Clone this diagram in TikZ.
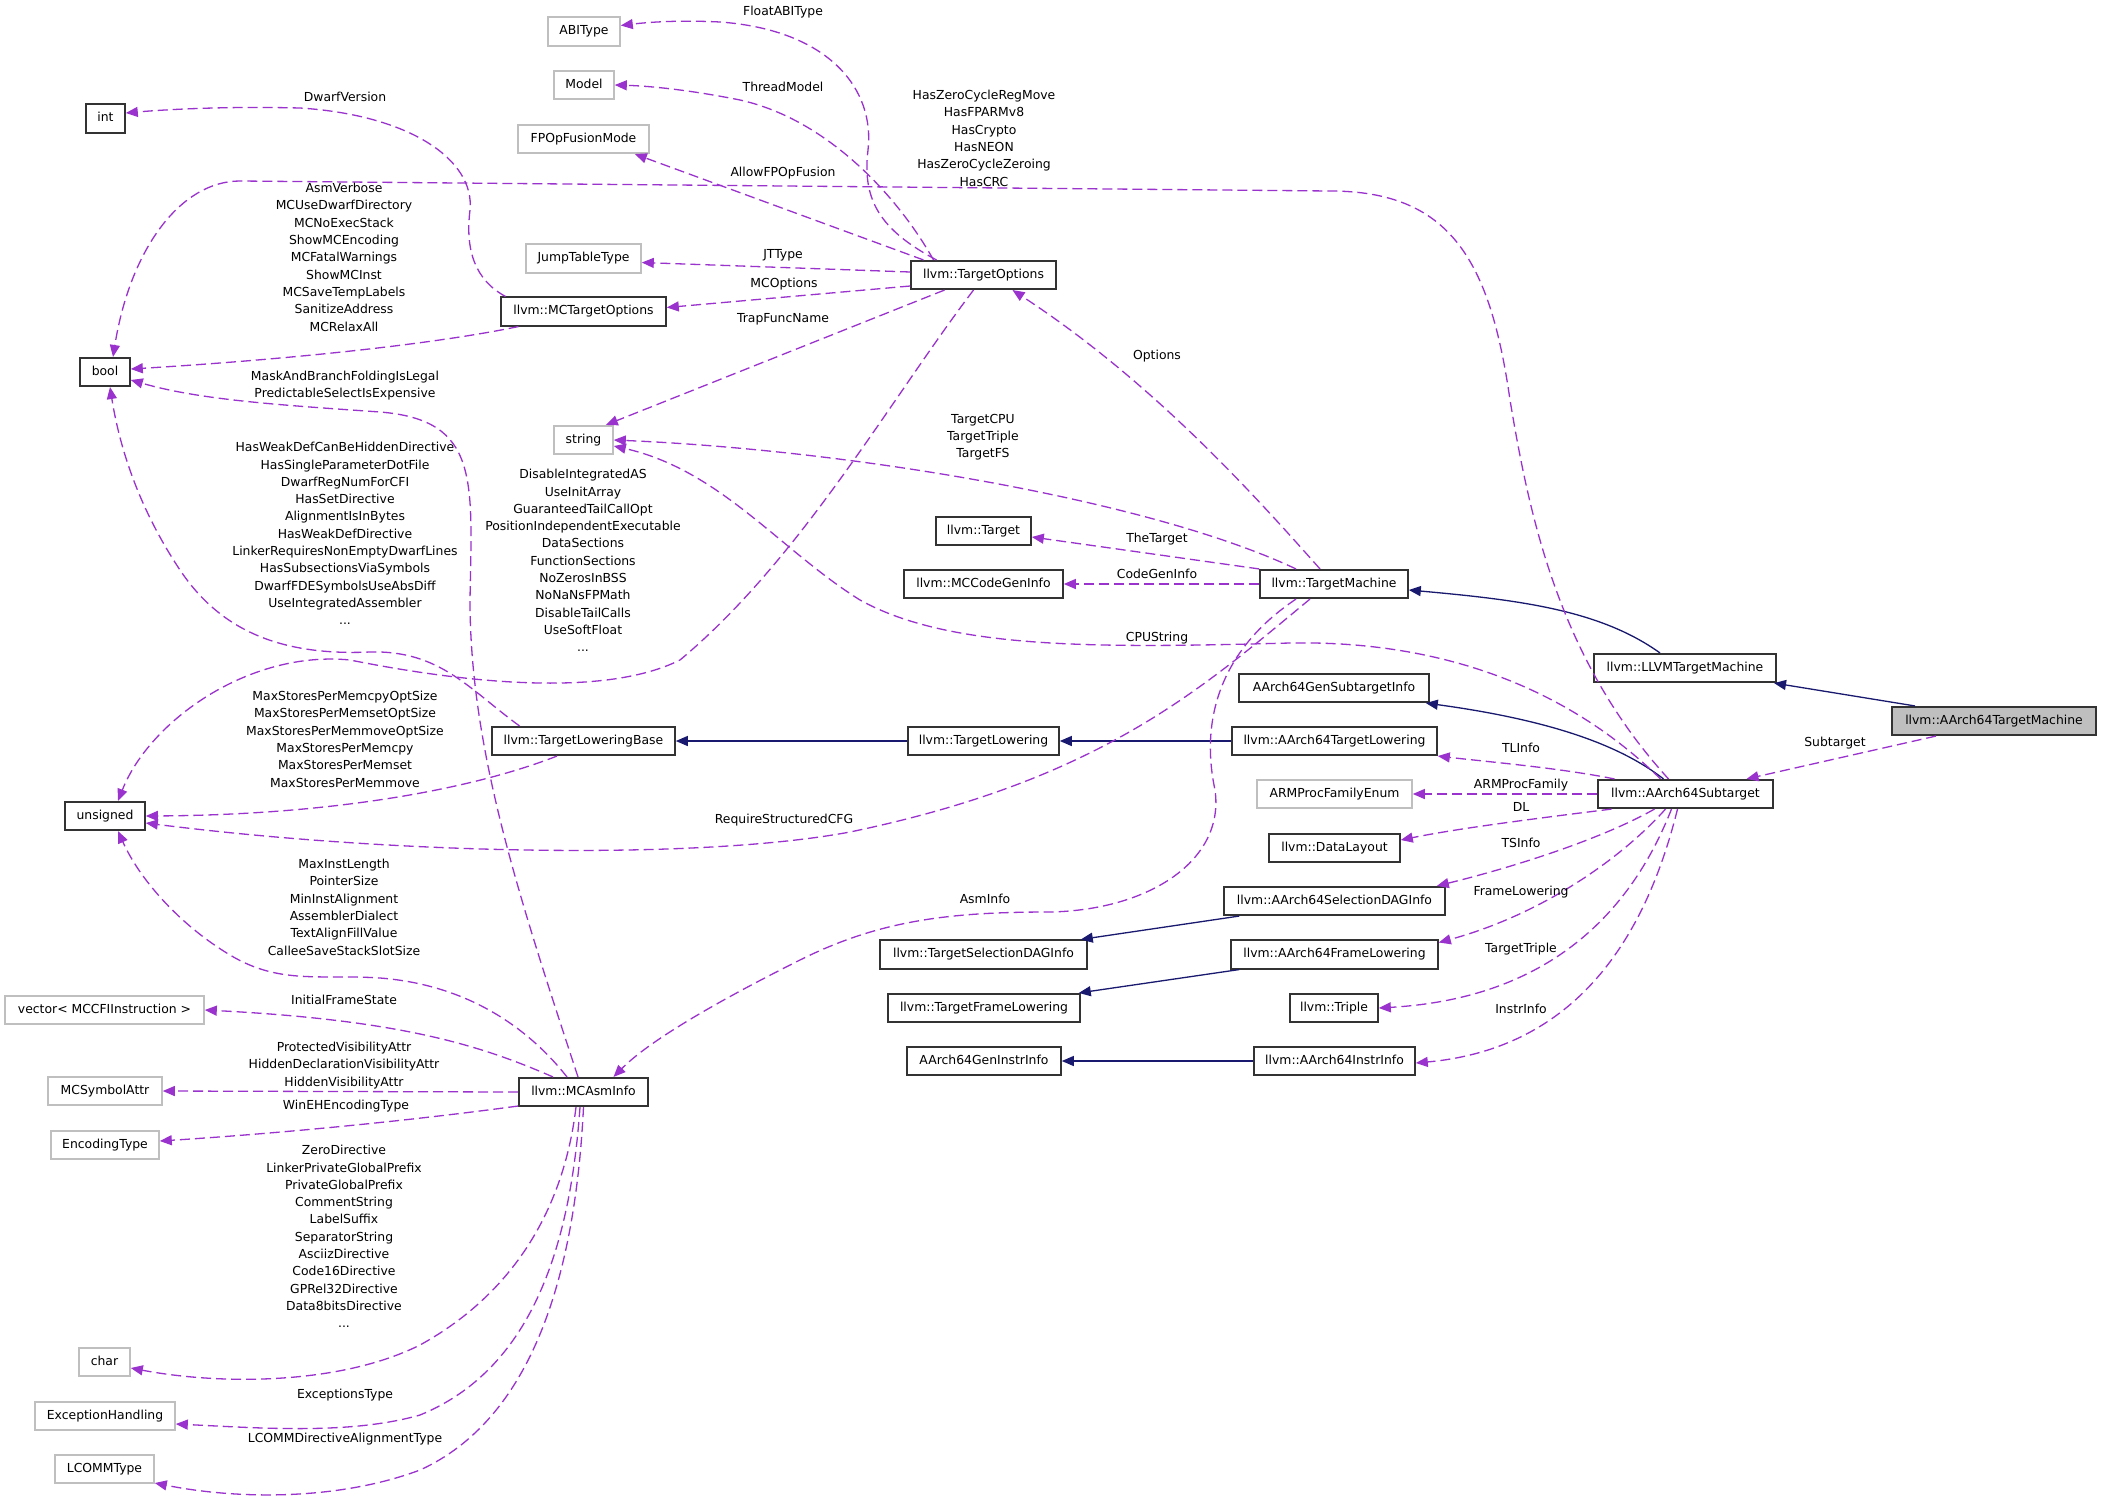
\documentclass[tikz,border=0pt]{standalone}
\usepackage{fontspec}
\setmainfont{DejaVu Sans}
\usetikzlibrary{arrows.meta}
\definecolor{pur}{HTML}{9A32CD}
\definecolor{navyc}{HTML}{191970}
\definecolor{grayb}{HTML}{BFBFBF}
\begin{document}
\begin{tikzpicture}[x=1pt,y=-1pt,
  every node/.style={font=\fontsize{12.4pt}{17.3pt}\selectfont, inner sep=0pt},
  cls/.style={draw=black!80, line width=1.6pt, minimum height=28.5pt, text height=9.3pt, text depth=2.9pt},
  ext/.style={draw=grayb, line width=1.6pt, minimum height=28.5pt, text height=9.3pt, text depth=2.9pt},
  lbl/.style={align=center},
  use/.style={draw=pur, line width=1.3pt, dash pattern=on 10pt off 5pt, -{Triangle[length=12pt,width=10pt]}},
  inh/.style={draw=navyc, line width=1.3pt, -{Triangle[length=12pt,width=10pt]}},
]
\fill[white] (0,0) rectangle (2101,1499);
\useasboundingbox (0,0) rectangle (2101,1499);

% column 1
\node[cls, minimum width=39pt] (int) at (105.5,118.5) {int};
\node[cls, minimum width=50pt] (bool) at (105,372) {bool};
\node[cls, minimum width=80pt] (unsigned) at (105,816) {unsigned};
\node[ext, minimum width=199pt] (vec) at (104.5,1010) {vector< MCCFIInstruction >};
\node[ext, minimum width=114pt] (symattr) at (105,1091) {MCSymbolAttr};
\node[ext, minimum width=108pt] (enctype) at (105,1145) {EncodingType};
\node[ext, minimum width=51pt] (char) at (104.5,1362) {char};
\node[ext, minimum width=140pt] (exch) at (105,1416) {ExceptionHandling};
\node[ext, minimum width=99pt] (lcomm) at (104.5,1469) {LCOMMType};

% column 2
\node[ext, minimum width=72pt] (abitype) at (584,31.5) {ABIType};
\node[ext, minimum width=60pt] (model) at (584,85) {Model};
\node[ext, minimum width=131pt] (fpop) at (583.5,139) {FPOpFusionMode};
\node[ext, minimum width=115pt] (jtt) at (583.5,258.5) {JumpTableType};
\node[cls, minimum width=165pt] (mcto) at (583.5,311.5) {llvm::MCTargetOptions};
\node[ext, minimum width=59pt] (string) at (583.5,440) {string};
\node[cls, minimum width=183pt] (tlb) at (583.5,741) {llvm::TargetLoweringBase};
\node[cls, minimum width=129pt] (mcasm) at (583.5,1092) {llvm::MCAsmInfo};

% column 3
\node[cls, minimum width=145pt] (topt) at (983.5,275) {llvm::TargetOptions};
\node[cls, minimum width=95pt] (target) at (983.5,531) {llvm::Target};
\node[cls, minimum width=159pt] (mccgi) at (983.5,584) {llvm::MCCodeGenInfo};
\node[cls, minimum width=151pt] (tl) at (983.5,741) {llvm::TargetLowering};
\node[cls, minimum width=207pt] (tsdag) at (983.5,954.5) {llvm::TargetSelectionDAGInfo};
\node[cls, minimum width=192pt] (tfl) at (984,1008) {llvm::TargetFrameLowering};
\node[cls, minimum width=154pt] (geninstr) at (984,1061) {AArch64GenInstrInfo};

% column 4
\node[cls, minimum width=148pt] (tm) at (1334,584) {llvm::TargetMachine};
\node[cls, minimum width=190pt] (gensub) at (1334,688) {AArch64GenSubtargetInfo};
\node[cls, minimum width=205pt] (a64tl) at (1334.5,741) {llvm::AArch64TargetLowering};
\node[ext, minimum width=155pt] (armpf) at (1334.5,794) {ARMProcFamilyEnum};
\node[cls, minimum width=131pt] (dl) at (1334.5,848) {llvm::DataLayout};
\node[cls, minimum width=221pt] (a64sdag) at (1334.5,901) {llvm::AArch64SelectionDAGInfo};
\node[cls, minimum width=207pt] (a64fl) at (1334.5,954.5) {llvm::AArch64FrameLowering};
\node[cls, minimum width=88pt] (triple) at (1334,1008) {llvm::Triple};
\node[cls, minimum width=161pt] (a64ii) at (1334.5,1061) {llvm::AArch64InstrInfo};

% columns 5 and 6
\node[cls, minimum width=182pt] (llvmtm) at (1685,668) {llvm::LLVMTargetMachine};
\node[cls, minimum width=175pt] (subt) at (1685.5,794) {llvm::AArch64Subtarget};
\node[cls, fill=grayb, minimum width=204pt] (a64tm) at (1994,721) {llvm::AArch64TargetMachine};

% inheritance
\draw[inh] ([xshift=-79pt]a64tm.north) -- ([xshift=89pt]llvmtm.south);
\draw[inh] ([xshift=-25pt]llvmtm.north) .. controls (1600,610) and (1520,600) .. ([yshift=-6pt]tm.east);
\draw[inh] ([xshift=-22pt]subt.north) .. controls (1620,745) and (1550,720) .. ([xshift=-4pt]gensub.south east);
\draw[inh] (a64tl.west) -- (tl.east);
\draw[inh] (tl.west) -- (tlb.east);
\draw[inh] ([xshift=16pt]a64sdag.south west) -- ([xshift=-7pt]tsdag.north east);
\draw[inh] ([xshift=9pt]a64fl.south west) -- ([xshift=-2pt]tfl.north east);
\draw[inh] (a64ii.west) -- (geninstr.east);

% usage: AArch64TargetMachine / Subtarget
\draw[use] ([xshift=-58pt]a64tm.south) -- ([xshift=61pt]subt.north);
\draw[use] ([xshift=-17pt]subt.north) .. controls (1560,660) and (1530,520) .. (1510,400) .. controls (1490,260) and (1450,191) .. (1330,191) -- (240,181) .. controls (180,181) and (130,250) .. ([xshift=8pt]bool.north);
\draw[use] ([xshift=-25pt]subt.north) .. controls (1580,700) and (1460,640) .. (1290,643) .. controls (1100,648) and (950,650) .. (860,600) .. controls (780,550) and (720,470) .. ([yshift=-6pt]string.east);
\draw[use] ([xshift=-71pt]subt.north) .. controls (1560,768) and (1490,762) .. (a64tl.south east);
\draw[use] (subt.west) -- (armpf.east);
\draw[use] ([xshift=-74pt]subt.south) .. controls (1540,818) and (1460,828) .. ([yshift=8pt]dl.east);
\draw[use] ([xshift=-31pt]subt.south) .. controls (1600,840) and (1510,868) .. ([xshift=-9pt]a64sdag.north east);
\draw[use] ([xshift=-20pt]subt.south) .. controls (1620,860) and (1540,915) .. ([yshift=12pt]a64fl.east);
\draw[use] ([xshift=-14pt]subt.south) .. controls (1620,940) and (1520,1000) .. (triple.east);
\draw[use] ([xshift=-8pt]subt.south) .. controls (1640,960) and (1560,1050) .. ([yshift=-2pt]a64ii.east);

% usage: TargetMachine
\draw[use] ([xshift=-14pt]tm.north) .. controls (1250,490) and (1150,380) .. ([xshift=29pt]topt.south);
\draw[use] ([xshift=-38pt]tm.north) .. controls (1150,500) and (850,450) .. (string.east);
\draw[use] (tm.north west) -- ([yshift=-6pt]target.east);
\draw[use] (tm.west) -- (mccgi.east);
\draw[use] ([xshift=-24pt]tm.south) .. controls (1200,690) and (1100,780) .. (850,832) .. controls (700,860) and (400,855) .. ([yshift=-7pt]unsigned.east);
\draw[use] ([xshift=-38pt]tm.south) .. controls (1220,650) and (1200,720) .. (1215,790) .. controls (1225,860) and (1150,910) .. (1050,912) .. controls (950,912) and (880,920) .. (800,960) .. controls (720,1000) and (650,1040) .. ([xshift=30pt]mcasm.north);

% usage: TargetOptions
\draw[use] ([xshift=-47pt]topt.north) .. controls (880,230) and (862,200) .. (868,150) .. controls (875,90) and (830,30) .. (720,22) .. controls (680,20) and (650,22) .. ([yshift=6pt]abitype.east);
\draw[use] ([xshift=-50pt]topt.north) .. controls (900,200) and (830,120) .. (740,100) .. controls (690,90) and (650,86) .. (model.east);
\draw[use] ([xshift=-60pt]topt.north) -- ([xshift=-15pt]fpop.south east);
\draw[use] ([yshift=3pt]topt.west) -- ([yshift=-4pt]jtt.east);
\draw[use] ([yshift=-11pt]topt.west) -- ([yshift=4pt]mcto.east);
\draw[use] ([xshift=-39pt]topt.south) -- ([xshift=-8pt]string.north east);
\draw[use] ([xshift=-10pt]topt.south) .. controls (890,400) and (800,560) .. (680,660) .. controls (600,700) and (450,680) .. (350,660) .. controls (250,650) and (150,720) .. ([xshift=13pt]unsigned.north);

% usage: MCTargetOptions
\draw[use] ([xshift=-78pt]mcto.north) .. controls (475,280) and (465,250) .. (470,210) .. controls (475,160) and (410,115) .. (300,108) .. controls (220,106) and (160,110) .. ([yshift=5.5pt]int.east);
\draw[use] ([xshift=-65pt]mcto.south) .. controls (430,345) and (280,360) .. ([yshift=3pt]bool.east);

% usage: TargetLoweringBase
\draw[use] ([xshift=-64pt]tlb.north) .. controls (470,690) and (440,650) .. (370,652) .. controls (280,656) and (220,630) .. (180,570) .. controls (140,510) and (120,450) .. ([xshift=5pt]bool.south);
\draw[use] ([xshift=-26.5pt]tlb.south) .. controls (470,790) and (330,815) .. (unsigned.east);

% usage: MCAsmInfo
\draw[use] ([xshift=-5.5pt]mcasm.north) .. controls (520,900) and (470,750) .. (470,600) .. controls (472,480) and (480,420) .. (380,412) .. controls (280,405) and (200,400) .. ([yshift=-8pt]bool.east);
\draw[use] ([xshift=-16.5pt]mcasm.north) .. controls (530,1030) and (470,985) .. (380,978) .. controls (320,974) and (280,985) .. (230,955) .. controls (180,925) and (140,880) .. ([xshift=13pt]unsigned.south);
\draw[use] ([xshift=-30.5pt]mcasm.north) .. controls (480,1045) and (400,1020) .. (vec.east);
\draw[use] (mcasm.west) -- (symattr.east);
\draw[use] ([yshift=-14pt]mcasm.west) .. controls (400,1122) and (270,1134) .. ([yshift=4pt]enctype.east);
\draw[use] ([xshift=-7.5pt]mcasm.south) .. controls (565,1200) and (520,1290) .. (420,1345) .. controls (340,1385) and (220,1385) .. ([yshift=-6pt]char.east);
\draw[use] ([xshift=-3.5pt]mcasm.south) .. controls (570,1250) and (530,1370) .. (420,1415) .. controls (350,1435) and (260,1428) .. ([yshift=-8pt]exch.east);
\draw[use] (mcasm.south) .. controls (575,1280) and (530,1420) .. (420,1470) .. controls (340,1500) and (240,1500) .. ([yshift=-14pt]lcomm.east);

% labels
\node[lbl] (l1) at (783,12) {FloatABIType};
\node[lbl] (l2) at (783,87) {ThreadModel};
\node[lbl] (l3) at (783,173) {AllowFPOpFusion};
\node[lbl] (l4) at (783,255) {JTType};
\node[lbl] (l5) at (784,284) {MCOptions};
\node[lbl] (l6) at (783,319) {TrapFuncName};
\node[lbl] (l7) at (984,138.3) {HasZeroCycleRegMove\\HasFPARMv8\\HasCrypto\\HasNEON\\HasZeroCycleZeroing\\HasCRC};
\node[lbl] (l8) at (345,97) {DwarfVersion};
\node[lbl] (l9) at (344,257.2) {AsmVerbose\\MCUseDwarfDirectory\\MCNoExecStack\\ShowMCEncoding\\MCFatalWarnings\\ShowMCInst\\MCSaveTempLabels\\SanitizeAddress\\MCRelaxAll};
\node[lbl] (l10) at (345,385.7) {MaskAndBranchFoldingIsLegal\\PredictableSelectIsExpensive};
\node[lbl] (l11) at (345,533.5) {HasWeakDefCanBeHiddenDirective\\HasSingleParameterDotFile\\DwarfRegNumForCFI\\HasSetDirective\\AlignmentIsInBytes\\HasWeakDefDirective\\LinkerRequiresNonEmptyDwarfLines\\HasSubsectionsViaSymbols\\DwarfFDESymbolsUseAbsDiff\\UseIntegratedAssembler\\...};
\node[lbl] (l12) at (583,560.5) {DisableIntegratedAS\\UseInitArray\\GuaranteedTailCallOpt\\PositionIndependentExecutable\\DataSections\\FunctionSections\\NoZerosInBSS\\NoNaNsFPMath\\DisableTailCalls\\UseSoftFloat\\...};
\node[lbl] (l13) at (983,437.3) {TargetCPU\\TargetTriple\\TargetFS};
\node[lbl] (l14) at (1157,356) {Options};
\node[lbl] (l15) at (1157,539) {TheTarget};
\node[lbl] (l16) at (1157,574) {CodeGenInfo};
\node[lbl] (l17) at (1157,638) {CPUString};
\node[lbl] (l18) at (784,820) {RequireStructuredCFG};
\node[lbl] (l19) at (345,739.3) {MaxStoresPerMemcpyOptSize\\MaxStoresPerMemsetOptSize\\MaxStoresPerMemmoveOptSize\\MaxStoresPerMemcpy\\MaxStoresPerMemset\\MaxStoresPerMemmove};
\node[lbl] (l20) at (344,907.3) {MaxInstLength\\PointerSize\\MinInstAlignment\\AssemblerDialect\\TextAlignFillValue\\CalleeSaveStackSlotSize};
\node[lbl] (l21) at (344,1000) {InitialFrameState};
\node[lbl] (l22) at (344,1065.3) {ProtectedVisibilityAttr\\HiddenDeclarationVisibilityAttr\\HiddenVisibilityAttr};
\node[lbl] (l23) at (346,1106) {WinEHEncodingType};
\node[lbl] (l24) at (344,1236.5) {ZeroDirective\\LinkerPrivateGlobalPrefix\\PrivateGlobalPrefix\\CommentString\\LabelSuffix\\SeparatorString\\AsciizDirective\\Code16Directive\\GPRel32Directive\\Data8bitsDirective\\...};
\node[lbl] (l25) at (345,1395) {ExceptionsType};
\node[lbl] (l26) at (345,1439) {LCOMMDirectiveAlignmentType};
\node[lbl] (l27) at (985,899) {AsmInfo};
\node[lbl] (l28) at (1835,743) {Subtarget};
\node[lbl] (l29) at (1521,748) {TLInfo};
\node[lbl] (l30) at (1521,785) {ARMProcFamily};
\node[lbl] (l31) at (1521,807) {DL};
\node[lbl] (l32) at (1521,843) {TSInfo};
\node[lbl] (l33) at (1521,892) {FrameLowering};
\node[lbl] (l34) at (1521,949) {TargetTriple};
\node[lbl] (l35) at (1521,1009) {InstrInfo};
\end{tikzpicture}
\end{document}
